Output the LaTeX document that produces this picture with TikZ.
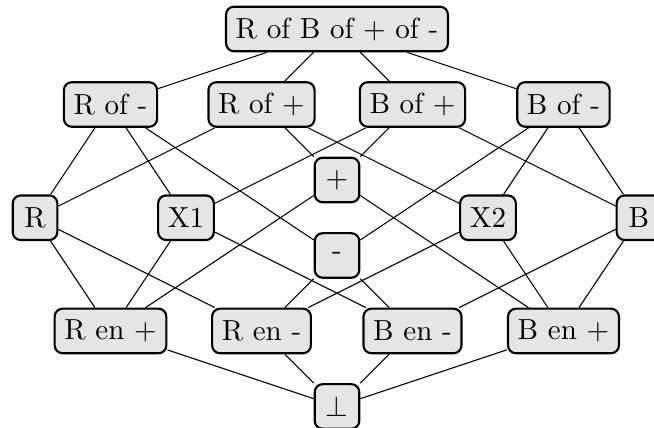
\documentclass[tikz,border=0pt,11pt]{standalone}
\usepackage{tikz}
\begin{document}
\begin{tikzpicture}[elem/.style={draw, thick, rounded corners=3pt, fill=black!10, minimum height=16.8pt, minimum width=16.8pt}]
    %Page size
    \useasboundingbox (-4.464,-0.285) rectangle (4.199,5.384);
    %Top
    \node[elem] (top) at (0,5) {R of B of + of -};
    %Joins
    \node[elem] (rofm) at (-3,4) {R of -};
    \node[elem] (rofp) at (-1,4) {R of +};
    \node[elem] (bofp) at (1,4) {B of +};
    \node[elem] (bofm) at (3,4) {B of -};
    %Middle
    \node[elem] (r) at (-4,2.5) {R};
    \node[elem] (xone) at (-2,2.5) {X1};
    \node[elem] (plus) at (0,3) {+};
    \node[elem] (minus) at (0,2) {-};
    \node[elem] (xtwo) at (2,2.5) {X2};
    \node[elem] (b) at (4,2.5) {B};
    %Meets
    \node[elem] (renp) at (-3,1) {R en +};
    \node[elem] (renm) at (-1,1) {R en -};
    \node[elem] (benm) at (1,1) {B en -};
    \node[elem] (benp) at (3,1) {B en +};
    %Bottom
    \node[elem] (bot) at (0,0) {$\bot$};
    %Lines
    \foreach \a in {rofm, rofp, bofp, bofm}
      \draw (top) -- (\a);
    \foreach \a/\b in {rofm/r, rofm/xone, rofm/minus, rofp/r, rofp/plus, rofp/xtwo,
                       bofp/xone, bofp/plus, bofp/b, bofm/minus, bofm/xtwo, bofm/b}
      \draw (\a) -- (\b);
    \foreach \a/\b in {plus/renp, plus/benp, minus/renm, minus/benm, r/renp, r/renm,
                       xone/renp, xone/benm, xtwo/renm, xtwo/benp, b/benm, b/benp}
      \draw (\a) -- (\b);
    \foreach \a in {renp, renm, benm, benp}
      \draw (\a) -- (bot);
\end{tikzpicture}
\end{document}
